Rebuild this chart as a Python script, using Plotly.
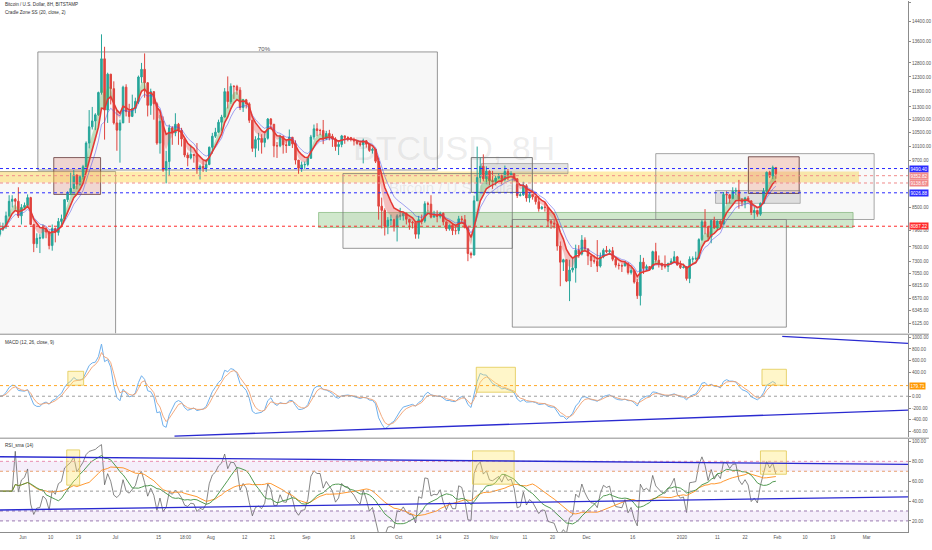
import numpy as np
import pandas as pd
import plotly.graph_objects as go
from plotly.subplots import make_subplots

# ---------------- DATA (daily OHLC) ----------------
START = "2019-05-24"
FIRST_OPEN = 7880

close_may = [7990, 8050, 8300, 8650, 8700, 8650, 8300, 8500]
high_may = [8150, 8140, 8400, 8800, 8800, 8730, 9000, 8580]
low_may = [7830, 7950, 8000, 8280, 8500, 8450, 8250, 8100]

close_jun = [8550, 8740, 8100, 7670, 7790, 7800, 8000, 7930, 7630, 8010, 7920, 8170, 8230, 8690, 8850,
             8970, 9320, 9080, 9280, 9540, 10200, 10680, 10860, 11050, 11770, 12950, 11200, 12400, 11900, 10800]
high_jun = [8620, 8820, 8760, 8100, 7900, 7880, 8100, 8050, 7960, 8100, 8030, 8250, 8330, 8700, 8900,
            9380, 9450, 9330, 9320, 9590, 10250, 11200, 11300, 11100, 11800, 13880, 13400, 12450, 12400, 12150]
low_jun = [8450, 8540, 8090, 7490, 7580, 7470, 7770, 7790, 7550, 7520, 7700, 7850, 8060, 8180, 8630,
           8800, 8960, 8950, 9040, 9200, 9530, 10050, 10600, 10580, 11020, 11700, 10300, 10800, 11380, 10750]

close_jul = [10580, 10800, 11950, 11150, 11000, 11250, 11480, 12300, 12570, 12100, 11350, 11800, 11400, 10200, 10850,
             9450, 9680, 10650, 10500, 10760, 10580, 10320, 9860, 9780, 9880, 9850, 9480, 9550, 9500, 9600, 10080]
high_jul = [11200, 10900, 12000, 12050, 11400, 11700, 11600, 12350, 12800, 13150, 12120, 11900, 11800, 11450, 11050,
            11000, 9980, 10750, 10700, 11100, 10800, 10650, 10320, 9930, 10150, 9890, 10200, 9600, 9700, 9750, 10100]
low_jul = [9980, 9650, 10800, 11000, 10800, 10980, 11100, 11400, 12100, 11600, 11000, 11050, 10900, 10150, 9900,
           9400, 9100, 9300, 10150, 10400, 10150, 10100, 9800, 9550, 9740, 9650, 9350, 9200, 9400, 9400, 9580]

close_aug = [10400, 10520, 10820, 10980, 11800, 11470, 11980, 11970, 11850, 11280, 11530, 11400, 10880, 10050, 10300,
             10340, 10220, 10340, 10920, 10760, 10120, 10120, 10400, 10150, 10130, 10370, 10180, 9720, 9500, 9590, 9600]
high_aug = [10500, 10650, 10900, 11050, 11920, 12320, 12080, 12020, 12030, 11950, 11560, 11560, 11450, 10900, 10400,
            10500, 10460, 10480, 10950, 10950, 10750, 10230, 10450, 10400, 10290, 10600, 10380, 10280, 9720, 9680, 9680]
low_aug = [9900, 10350, 10500, 10560, 10970, 11250, 11400, 11560, 11700, 11200, 11140, 11250, 10800, 9950, 9800,
           9980, 9900, 10080, 10300, 10600, 9800, 9780, 10080, 9900, 9920, 10150, 10060, 9600, 9350, 9400, 9480]

close_sep = [9770, 10380, 10620, 10570, 10570, 10320, 10480, 10400, 10320, 10100, 10160, 10410, 10360, 10360, 10300,
             10260, 10190, 10150, 10270, 10170, 9990, 10020, 9690, 8530, 8430, 8060, 8200, 8210, 8050, 8300]
high_sep = [9800, 10440, 10750, 10790, 10620, 10890, 10560, 10590, 10470, 10370, 10240, 10440, 10420, 10400, 10380,
            10360, 10260, 10270, 10330, 10280, 10180, 10070, 10030, 9790, 8740, 8480, 8270, 8330, 8230, 8340]
low_sep = [9550, 9760, 10300, 10400, 10430, 10170, 10300, 10280, 10090, 9980, 9860, 10080, 10180, 10250, 10250,
           10130, 10150, 10100, 9630, 10070, 9950, 9900, 9640, 8210, 8010, 7850, 7880, 8080, 7940, 7720]

close_oct = [8300, 8360, 8220, 8150, 8140, 7880, 8210, 8180, 8590, 8580, 8270, 8300, 8290, 8360, 8160,
             8000, 8080, 7960, 7960, 8230, 8210, 8030, 7460, 7430, 8660, 9250, 9550, 9220, 9420, 9170, 9150]
high_oct = [8490, 8380, 8380, 8230, 8180, 8150, 8300, 8330, 8650, 8640, 8800, 8420, 8430, 8400, 8380,
            8160, 8100, 8110, 8070, 8300, 8300, 8320, 8050, 7500, 8790, 10100, 9800, 9880, 9550, 9440, 9430]
low_oct = [8200, 8190, 8100, 7980, 8010, 7780, 7780, 8100, 8140, 8400, 8240, 8270, 8150, 8240, 8080,
           7950, 7960, 7860, 7870, 7880, 8160, 8010, 7300, 7360, 7420, 8900, 9100, 9150, 9080, 9050, 8960]

close_nov = [9240, 9300, 9200, 9410, 9320, 9350, 9220, 8790, 8810, 9040, 8730, 8820, 8760, 8640, 8470,
             8510, 8500, 8180, 8130, 8110, 7620, 7280, 7330, 6900, 7120, 7160, 7530, 7450, 7750, 7560]
high_nov = [9300, 9360, 9330, 9570, 9480, 9420, 9370, 9240, 8870, 9140, 9080, 8870, 8820, 8780, 8780,
            8540, 8620, 8510, 8210, 8210, 8130, 7720, 7350, 7340, 7330, 7350, 7650, 7640, 7860, 7810]
low_nov = [9050, 9210, 9070, 9150, 9180, 9260, 9150, 8730, 8770, 8780, 8640, 8620, 8690, 8570, 8400,
           8450, 8400, 8050, 8000, 8010, 7520, 6800, 7100, 6880, 6520, 7070, 6870, 7370, 7420, 7510]

close_dec = [7410, 7310, 7300, 7200, 7390, 7530, 7500, 7520, 7340, 7220, 7210, 7200, 7260, 7070, 7110,
             6880, 6620, 7280, 7150, 7190, 7140, 7500, 7320, 7250, 7200, 7190, 7250, 7300, 7390, 7220, 7170]
high_dec = [7560, 7420, 7420, 7750, 7480, 7570, 7620, 7560, 7600, 7390, 7270, 7250, 7300, 7270, 7180,
            7120, 6940, 7430, 7370, 7230, 7190, 7520, 7690, 7420, 7270, 7420, 7270, 7360, 7510, 7410, 7310]
low_dec = [7220, 7180, 7250, 7080, 7170, 7360, 7470, 7430, 7300, 7170, 7130, 7080, 7200, 7030, 7030,
           6850, 6560, 6440, 7040, 7110, 7120, 7130, 7270, 7170, 7120, 7150, 7080, 7250, 7280, 7210, 7140]

close_jan = [7180, 6950, 7340, 7350, 7360, 7760, 8160, 8050, 7820, 8190, 8020, 8180, 8110, 8820, 8810,
             8720, 8900, 8920, 8700, 8630, 8730, 8660, 8380, 8430, 8340, 8600, 8900, 9390, 9290, 9520, 9350]
high_jan = [7250, 7200, 7400, 7400, 7500, 7790, 8210, 8460, 8060, 8200, 8280, 8190, 8190, 8880, 8900,
            8820, 9000, 8990, 9190, 8730, 8760, 8780, 8670, 8510, 8430, 8620, 8980, 9410, 9430, 9570, 9520]
low_jan = [7150, 6910, 6860, 7270, 7320, 7350, 7730, 7880, 7750, 7680, 8000, 7970, 8050, 8100, 8580,
           8600, 8700, 8810, 8470, 8530, 8480, 8620, 8320, 8230, 8280, 8300, 8580, 8860, 9240, 9210, 9220]

# price levels (horizontal dotted lines + right-axis tags)
LEVELS = [9490.40, 9300.0, 9110.0, 8860.0, 8060.0]
LEVEL_TEXT = ["9490.40", "9352.82", "9138.67", "9026.88", "8087.22"]
LEVEL_COLORS = ["#2a2aff", "#f08a8a", "#f08a8a", "#2a2aff", "#ff2b2b"]

PRICE_TICKS = [15200, 14400, 13600, 12800, 12300, 11800, 11300, 10900, 10500, 10100, 9700,
               8500, 7960, 7600, 7300, 7050, 6815, 6570, 6345, 6125]
MACD_TICKS = [1000, 800, 600, 400, 0, -200, -400, -600]
RSI_TICKS = [100, 80, 60, 40, 20]
MACD_LEVEL = 179.71

X_TICK_DATES = ['2019-06-01', '2019-06-10', '2019-06-19', '2019-07-01', '2019-07-15', '2019-07-23 18:00',
                '2019-08-01', '2019-08-12', '2019-08-21', '2019-09-01', '2019-09-16', '2019-10-01',
                '2019-10-14', '2019-10-23', '2019-11-01', '2019-11-11', '2019-11-20', '2019-12-01',
                '2019-12-16', '2020-01-01', '2020-01-12 12:00', '2020-01-21 12:00', '2020-02-01',
                '2020-02-10', '2020-02-19', '2020-03-01']
X_TICK_TEXT = ['Jun', '10', '19', 'Jul', '15', '18:00', 'Aug', '12', '21', 'Sep', '16', 'Oct', '14', '23',
               'Nov', '11', '20', 'Dec', '16', '2020', '11', '22', 'Feb', '10', '19', 'Mar']
X_RANGE = ['2019-05-24 13:00', '2020-03-14 10:00']

# drawings on the price pane: (x0, x1, y0, y1, fill, line)
PRICE_RECTS = [
    ('2019-05-10', '2019-07-01 02:00', 5800, 9410, 'rgba(120,120,120,0.05)', 'rgba(110,110,110,0.7)'),
    ('2019-06-05 20:00', '2019-10-13 14:00', 9450, 13205, 'rgba(120,120,120,0.06)', 'rgba(110,110,110,0.7)'),
    ('2019-06-11', '2019-06-26 05:00', 8820, 9790, 'rgba(215,110,95,0.25)', 'rgba(110,70,70,0.85)'),
    ('2019-05-10', '2020-02-27 12:00', 9121, 9410, 'rgba(255,212,70,0.45)', 'rgba(235,195,70,0.0)'),
    ('2019-09-05', '2020-02-25 14:00', 8030, 8380, 'rgba(110,185,95,0.32)', 'rgba(90,160,80,0.5)'),
    ('2019-09-12 22:00', '2019-11-06 22:00', 7571, 9356, 'rgba(120,120,120,0.05)', 'rgba(110,110,110,0.7)'),
    ('2019-10-24 14:00', '2019-11-13 10:00', 8870, 9790, 'rgba(120,120,120,0.07)', 'rgba(90,90,90,0.8)'),
    ('2019-10-27 22:00', '2019-11-25', 9356, 9625, 'rgba(120,120,120,0.2)', 'rgba(120,120,120,0.5)'),
    ('2019-11-06 22:00', '2020-02-03 22:00', 6056, 8215, 'rgba(120,120,120,0.05)', 'rgba(110,110,110,0.7)'),
    ('2019-12-23 12:00', '2020-03-03 10:00', 8215, 9900, 'rgba(120,120,120,0.05)', 'rgba(130,130,130,0.7)'),
    ('2020-01-22 14:00', '2020-02-08 02:00', 8843, 9812, 'rgba(235,140,110,0.3)', 'rgba(100,60,60,0.85)'),
    ('2020-01-11 22:00', '2020-02-08 10:00', 8599, 8918, 'rgba(120,120,120,0.2)', 'rgba(120,120,120,0.5)'),
]
MACD_RECTS = [
    ('2019-06-15 14:00', '2019-06-20 17:00', 186, 422),
    ('2019-10-26 05:00', '2019-11-07 22:00', 68, 490),
    ('2020-01-27', '2020-02-03 22:00', 186, 456),
]
RSI_RECTS = [
    ('2019-06-15 05:00', '2019-06-19 10:00', 56, 91.5),
    ('2019-10-25', '2019-11-07 12:00', 57, 90.5),
    ('2020-01-26 12:00', '2020-02-03 22:00', 67, 90.5),
]
MACD_TRENDS = [('2020-02-02 14:00', 1014, '2020-03-14 10:00', 895),
               ('2019-07-20 05:00', -676, '2020-03-14 10:00', -236)]
RSI_TRENDS = [('2019-05-24 13:00', 84.6, '2020-03-14 10:00', 77.0),
              ('2019-05-24 13:00', 31.0, '2020-03-14 10:00', 44.3)]

# ---------------- build series ----------------
closes = close_may + close_jun + close_jul + close_aug + close_sep + close_oct + close_nov + close_dec + close_jan
highs = high_may + high_jun + high_jul + high_aug + high_sep + high_oct + high_nov + high_dec + high_jan
lows = low_may + low_jun + low_jul + low_aug + low_sep + low_oct + low_nov + low_dec + low_jan
assert len(closes) == len(highs) == len(lows)
opens = [FIRST_OPEN] + closes[:-1]
highs = [max(h, o, c) for h, o, c in zip(highs, opens, closes)]
lows = [min(l, o, c) for l, o, c in zip(lows, opens, closes)]
dates = pd.date_range(START, periods=len(closes), freq='D') + pd.Timedelta(hours=12)
c = pd.Series(closes, index=dates, dtype=float)

# indicators (8H periods converted to daily smoothing factors)
fast = c.ewm(alpha=0.452, adjust=False).mean()
mid = c.ewm(alpha=0.259, adjust=False).mean()
slow = c.ewm(alpha=0.181, adjust=False).mean()
macd = c.ewm(alpha=0.394, adjust=False).mean() - c.ewm(alpha=0.206, adjust=False).mean()
signal = macd.ewm(alpha=0.488, adjust=False).mean()
delta = c.diff().fillna(0)
ag = delta.clip(lower=0).ewm(alpha=0.17, adjust=False).mean()
al = (-delta.clip(upper=0)).ewm(alpha=0.17, adjust=False).mean()
rsi = 100 - 100 / (1 + ag / al.replace(0, np.nan))
rsi = rsi.fillna(50)
rsi_g = rsi.rolling(10, min_periods=1).mean()
rsi_o = rsi.rolling(20, min_periods=1).mean()

fig = make_subplots(rows=3, cols=1, shared_xaxes=True, vertical_spacing=0.004)

# cradle zone fills
def zone_polys(sign):
    xs, ys = [], []
    cond = (fast >= mid) if sign > 0 else (fast < mid)
    n = len(c)
    i = 0
    while i < n:
        if cond.iloc[i]:
            j = i
            while j + 1 < n and cond.iloc[j + 1]:
                j += 1
            a, b = max(i - 1, 0), min(j + 1, n - 1)
            seg = list(range(a, b + 1))
            xs += [dates[k] for k in seg] + [dates[k] for k in seg[::-1]] + [None]
            ys += [fast.iloc[k] for k in seg] + [mid.iloc[k] for k in seg[::-1]] + [None]
            i = j + 1
        else:
            i += 1
    return xs, ys

gx, gy = zone_polys(1)
rx, ry = zone_polys(-1)
fig.add_trace(go.Scatter(x=gx, y=gy, fill='toself', fillcolor='rgba(76,175,80,0.35)', line=dict(width=0),
                         mode='lines', hoverinfo='skip'), row=1, col=1)
fig.add_trace(go.Scatter(x=rx, y=ry, fill='toself', fillcolor='rgba(239,83,80,0.35)', line=dict(width=0),
                         mode='lines', hoverinfo='skip'), row=1, col=1)
fig.add_trace(go.Scatter(x=dates, y=slow, mode='lines', line=dict(color='rgba(70,70,230,0.7)', width=0.7)), row=1, col=1)

fig.add_trace(go.Candlestick(x=dates, open=opens, high=highs, low=lows, close=closes,
                             increasing=dict(line=dict(color='#26a69a', width=1), fillcolor='#26a69a'),
                             decreasing=dict(line=dict(color='#e0443e', width=1), fillcolor='#e0443e'),
                             whiskerwidth=0), row=1, col=1)
fig.add_trace(go.Scatter(x=dates, y=mid, mode='lines', line=dict(color='#e53935', width=1.6)), row=1, col=1)

# MACD
fig.add_trace(go.Scatter(x=dates, y=macd, mode='lines', line=dict(color='#6fb0ec', width=1)), row=2, col=1)
fig.add_trace(go.Scatter(x=dates, y=signal, mode='lines', line=dict(color='#f0a070', width=0.9)), row=2, col=1)

# RSI
fig.add_trace(go.Scatter(x=dates, y=rsi, mode='lines', line=dict(color='#555555', width=0.7)), row=3, col=1)
fig.add_trace(go.Scatter(x=dates, y=rsi_o, mode='lines', line=dict(color='#ff8c1a', width=0.9)), row=3, col=1)
fig.add_trace(go.Scatter(x=dates, y=rsi_g, mode='lines', line=dict(color='#3e8e3e', width=0.9)), row=3, col=1)

shapes = []
for x0, x1, y0, y1, fc, lc in PRICE_RECTS:
    shapes.append(dict(type='rect', xref='x', yref='y', x0=x0, x1=x1, y0=y0, y1=y1,
                       fillcolor=fc, line=dict(color=lc, width=1), layer='below'))
for lv, col in zip(LEVELS, LEVEL_COLORS):
    shapes.append(dict(type='line', xref='paper', yref='y', x0=0, x1=1, y0=lv, y1=lv,
                       line=dict(color=col, width=1, dash='dot')))
for x0, x1, y0, y1 in MACD_RECTS:
    shapes.append(dict(type='rect', xref='x2', yref='y2', x0=x0, x1=x1, y0=y0, y1=y1,
                       fillcolor='rgba(255,230,100,0.35)', line=dict(color='rgba(225,200,80,0.8)', width=1)))
shapes.append(dict(type='line', xref='paper', yref='y2', x0=0, x1=1, y0=MACD_LEVEL, y1=MACD_LEVEL,
                   line=dict(color='#ffa726', width=1, dash='dot')))
shapes.append(dict(type='line', xref='paper', yref='y2', x0=0, x1=1, y0=0, y1=0,
                   line=dict(color='#9e9e9e', width=1, dash='dot')))
for x0, y0, x1, y1 in MACD_TRENDS:
    shapes.append(dict(type='line', xref='x2', yref='y2', x0=x0, y0=y0, x1=x1, y1=y1,
                       line=dict(color='#2a2ad0', width=1.3)))
# RSI bands
shapes.append(dict(type='rect', xref='paper', yref='y3', x0=0, x1=1, y0=70, y1=80,
                   fillcolor='rgba(200,160,230,0.18)', line=dict(width=0), layer='below'))
shapes.append(dict(type='rect', xref='paper', yref='y3', x0=0, x1=1, y0=20, y1=30,
                   fillcolor='rgba(200,160,230,0.18)', line=dict(width=0), layer='below'))
for lv, col in [(80, '#e88fb0'), (70, '#e8a070'), (50, '#999999'), (30, '#9a7ab0'), (20, '#9a7ab0')]:
    shapes.append(dict(type='line', xref='paper', yref='y3', x0=0, x1=1, y0=lv, y1=lv,
                       line=dict(color=col, width=1, dash='dot')))
for x0, x1, y0, y1 in RSI_RECTS:
    shapes.append(dict(type='rect', xref='x3', yref='y3', x0=x0, x1=x1, y0=y0, y1=y1,
                       fillcolor='rgba(255,230,100,0.35)', line=dict(color='rgba(225,200,80,0.8)', width=1)))
for x0, y0, x1, y1 in RSI_TRENDS:
    shapes.append(dict(type='line', xref='x3', yref='y3', x0=x0, y0=y0, x1=x1, y1=y1,
                       line=dict(color='#2a2ad0', width=1.3)))
# pane separators
for yp in [0.3725, 0.1767]:
    shapes.append(dict(type='line', xref='paper', yref='paper', x0=0, x1=1.023, y0=yp, y1=yp,
                       line=dict(color='#8c8c8c', width=1)))

annotations = []
FONT = 'Liberation Sans'
for lv, txt, col in zip(LEVELS, LEVEL_TEXT, LEVEL_COLORS):
    annotations.append(dict(xref='paper', yref='y', x=1.001, y=np.log10(lv), text=txt, showarrow=False,
                            xanchor='left', yanchor='middle', bgcolor=col,
                            font=dict(color='white', size=4.6, family=FONT), borderpad=0.5))
annotations.append(dict(xref='paper', yref='y2', x=1.001, y=MACD_LEVEL, text='179.71', showarrow=False,
                        xanchor='left', yanchor='middle', bgcolor='#ff9800',
                        font=dict(color='white', size=4.6, family=FONT), borderpad=0.5))
annotations.append(dict(xref='paper', yref='paper', x=0.003, y=0.9925, text='Bitcoin / U.S. Dollar, 8H, BITSTAMP',
                        showarrow=False, xanchor='left', yanchor='middle', font=dict(size=4.6, color='#333', family=FONT)))
annotations.append(dict(xref='paper', yref='paper', x=0.003, y=0.9775, text='Cradle Zone SS (20, close, 2)',
                        showarrow=False, xanchor='left', yanchor='middle', font=dict(size=4.6, color='#333', family=FONT)))
annotations.append(dict(xref='paper', yref='paper', x=0.003, y=0.357, text='MACD (12, 26, close, 9)',
                        showarrow=False, xanchor='left', yanchor='middle', font=dict(size=4.6, color='#333', family=FONT)))
annotations.append(dict(xref='paper', yref='paper', x=0.003, y=0.1635, text='RSI_sma (14)',
                        showarrow=False, xanchor='left', yanchor='middle', font=dict(size=4.6, color='#333', family=FONT)))
annotations.append(dict(xref='x', yref='y', x='2019-08-18 14:00', y=np.log10(13330), text='70%', showarrow=False,
                        font=dict(size=6, color='#555', family=FONT)))
annotations.append(dict(xref='paper', yref='y', x=0.5, y=np.log10(10060), text='BTCUSD, 8H', showarrow=False,
                        font=dict(size=34, color='rgba(120,120,120,0.14)', family=FONT)))
annotations.append(dict(xref='paper', yref='y', x=0.5, y=np.log10(8990), text='Bitcoin / U.S. Dollar', showarrow=False,
                        font=dict(size=15, color='rgba(120,120,120,0.14)', family=FONT)))

fig.update_layout(width=932, height=550, margin=dict(l=0, r=21, t=0, b=18),
                  paper_bgcolor='white', plot_bgcolor='white', showlegend=False,
                  shapes=shapes, annotations=annotations, hovermode=False,
                  font=dict(family=FONT, size=5, color='#555'))

tickfont = dict(size=4.6, color='#555', family=FONT)
fig.update_xaxes(range=X_RANGE, showgrid=False, zeroline=False, rangeslider_visible=False)
fig.update_xaxes(tickvals=X_TICK_DATES, ticktext=X_TICK_TEXT, tickfont=tickfont, ticks='', showline=True,
                 linecolor='#8c8c8c', row=3, col=1)

fig.update_layout(
    yaxis=dict(domain=[0.3745, 1], type='log', range=[np.log10(5954), np.log10(15254)], side='right',
               tickvals=PRICE_TICKS, ticktext=[f"{v:.2f}" for v in PRICE_TICKS], showgrid=False,
               zeroline=False, showline=True, linecolor='#8c8c8c', ticks='outside', ticklen=2,
               tickcolor='#8c8c8c', tickfont=tickfont),
    yaxis2=dict(domain=[0.1786, 0.3703], range=[-693, 1030], side='right',
                tickvals=MACD_TICKS, ticktext=[f"{v:.2f}" for v in MACD_TICKS], showgrid=False,
                zeroline=False, showline=True, linecolor='#8c8c8c', ticks='outside', ticklen=2,
                tickcolor='#8c8c8c', tickfont=tickfont),
    yaxis3=dict(domain=[0, 0.1748], range=[8.85, 102.3], side='right',
                tickvals=RSI_TICKS, ticktext=[f"{v:.2f}" for v in RSI_TICKS], showgrid=False,
                zeroline=False, showline=True, linecolor='#8c8c8c', ticks='outside', ticklen=2,
                tickcolor='#8c8c8c', tickfont=tickfont),
)

fig.write_html("out.html", config={'displayModeBar': False, 'staticPlot': True},
               post_script="document.body.style.margin='0px';")
